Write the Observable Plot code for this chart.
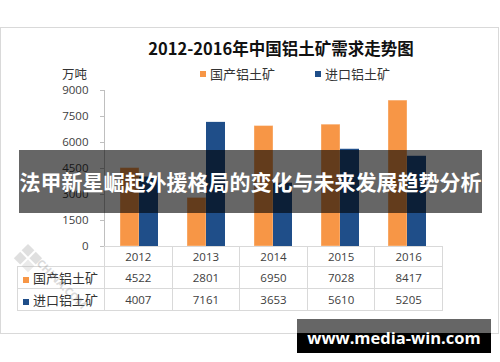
<!DOCTYPE html>
<html>
<head>
<meta charset="utf-8">
<script src="https://cdn.jsdelivr.net/npm/d3@7"></script>
<script src="https://cdn.jsdelivr.net/npm/@observablehq/plot@0.6"></script>
<style>
  html, body { margin: 0; padding: 0; background: #fff; }
  #wrap { position: relative; width: 500px; height: 362px; overflow: hidden; font-family: "Noto Sans CJK SC", "Open Sans", sans-serif; }
  #wrap > * { position: absolute; }
  #chart { left: 0; top: 0; }
  #chart svg text { fill: #404040; }
  #chart svg g[aria-label^="y-axis"] line, #chart svg g[aria-label^="y-axis"] path { stroke: #bfbfbf; }
  .border { left: 0; top: 27px; width: 499px; height: 307px; box-sizing: border-box; border: 1px solid #d9d9d9; }
  .title { left: 0; width: 562px; top: 36px; text-align: center; font-weight: bold; font-size: 16.5px; color: #111; line-height: 24px; }
  .unit { left: 62px; top: 67px; font-size: 12.5px; color: #333; line-height: 13px; }
  .legend { top: 65px; font-size: 13px; color: #333; line-height: 18px; display: flex; align-items: center; }
  .sw { width: 6px; height: 6px; margin-right: 4px; display: inline-block; }
  table.data { border-collapse: collapse; font-family: "Open Sans", sans-serif; font-size: 11.5px; color: #404040; }
  table.data td { border: 1px solid #d9d9d9; text-align: center; padding: 0; white-space: nowrap; }
  table.data td.lab { text-align: left; font-family: "Noto Sans CJK SC", sans-serif; font-size: 13px; color: #333; padding-left: 5px; }
  table.data td.empty { border: none; border-bottom: 1px solid #d9d9d9; }
  .banner { left: 19px; top: 150px; width: 463px; height: 63px; background: rgba(0,0,0,0.6); color: #fff; font-weight: bold; font-size: 21px; line-height: 63px; text-align: center; white-space: nowrap; }
  .url1 { left: 297px; top: 319px; width: 194px; height: 14px; background: #666; }
  .url2 { left: 297px; top: 333px; width: 194px; height: 20px; background: #000; }
  .urltext { left: 297px; top: 319px; width: 194px; height: 34px; line-height: 34px; text-align: center; color: #fff; font-family: "Open Sans", sans-serif; font-weight: bold; font-size: 16.5px; padding-top: 2px; box-sizing: border-box; }
  .wm { left: 6px; top: 226px; opacity: 0.3; }
</style>
</head>
<body>
<div id="wrap"></div>
<script>
// ---- data ----
const years = ["2012", "2013", "2014", "2015", "2016"];
const seriesNames = ["国产铝土矿", "进口铝土矿"];
const domestic = [4522, 2801, 6950, 7028, 8417];
const imported = [4007, 7161, 3653, 5610, 5205];
const yTicks = [0, 1500, 3000, 4500, 6000, 7500, 9000];
const colors = ["#F79646", "#1F4E89"];
const titleText = "2012-2016年中国铝土矿需求走势图";
const unitText = "万吨";
const bannerText = "法甲新星崛起外援格局的变化与未来发展趋势分析";
const urlText = "www.media-win.com";

const domRows = years.map((y, i) => ({year: y, value: domestic[i]}));
const impRows = years.map((y, i) => ({year: y, value: imported[i]}));

const wrap = document.getElementById("wrap");

const border = document.createElement("div");
border.className = "border";
wrap.appendChild(border);

const chart = Plot.plot({
  width: 500,
  height: 362,
  marginLeft: 104,
  marginRight: 58,
  marginTop: 90,
  marginBottom: 116,
  style: {fontFamily: "Open Sans, sans-serif", fontSize: "11.5px", background: "transparent", color: "#bfbfbf"},
  x: {domain: years, paddingInner: 0.44, paddingOuter: 0.22, axis: null},
  y: {domain: [0, 9000], ticks: yTicks, tickFormat: d => String(d), tickSize: 4, tickPadding: 12, line: true, label: null},
  marks: [
    Plot.barY(domRows, {x: "year", y: "value", fill: colors[0], insetRight: 19, stroke: "#fff", strokeOpacity: 0.35, strokeWidth: 1}),
    Plot.barY(impRows, {x: "year", y: "value", fill: colors[1], insetLeft: 19}),
    Plot.ruleY([0], {stroke: "#d0d0d0"})
  ]
});
const chartDiv = document.createElement("div");
chartDiv.id = "chart";
chartDiv.appendChild(chart);
wrap.appendChild(chartDiv);

// title
const title = document.createElement("div");
title.className = "title";
title.textContent = titleText;
wrap.appendChild(title);

// unit
const unit = document.createElement("div");
unit.className = "unit";
unit.textContent = unitText;
wrap.appendChild(unit);

// legend
const legendX = [200, 315];
seriesNames.forEach((name, i) => {
  const l = document.createElement("div");
  l.className = "legend";
  l.style.left = legendX[i] + "px";
  l.innerHTML = `<span class="sw" style="background:${colors[i]}"></span><span>${name}</span>`;
  wrap.appendChild(l);
});

// data table aligned with x band scale
const xs = chart.scale("x");
const step = (xs.range[1] - xs.range[0]) / years.length;
const table = document.createElement("table");
table.className = "data";
table.style.left = "17px";
table.style.top = "246px";
const colW = [87].concat(years.map(() => step));
const rowH = [20, 22, 22];
let html = "<colgroup>" + colW.map(w => `<col style="width:${w}px">`).join("") + "</colgroup>";
html += `<tr style="height:${rowH[0]}px"><td class="empty"></td>` + years.map(y => `<td>${y}</td>`).join("") + "</tr>";
[domestic, imported].forEach((vals, i) => {
  html += `<tr style="height:${rowH[i + 1]}px"><td class="lab"><span class="sw" style="background:${colors[i]}"></span>${seriesNames[i]}</td>` +
    vals.map(v => `<td>${v}</td>`).join("") + "</tr>";
});
table.innerHTML = html;
table.style.width = (87 + step * years.length) + "px";
table.style.tableLayout = "fixed";
wrap.appendChild(table);

// watermark (faint logo)
const wm = document.createElementNS("http://www.w3.org/2000/svg", "svg");
wm.setAttribute("class", "wm");
wm.setAttribute("width", "120");
wm.setAttribute("height", "120");
wm.style.position = "absolute";
wm.innerHTML = `<g transform="translate(22,18) rotate(45)">
  <rect x="0" y="0" width="9" height="9" fill="#999"/><rect x="11" y="0" width="9" height="9" fill="#999"/>
  <rect x="0" y="11" width="9" height="9" fill="#999"/><rect x="11" y="11" width="9" height="9" fill="#bbb"/></g>
  <text x="30" y="38" transform="rotate(45 30 38)" font-size="11" font-family="Open Sans" fill="#888" font-weight="bold">CHINA.COM</text>`;
wrap.appendChild(wm);

// overlay banner
const banner = document.createElement("div");
banner.className = "banner";
banner.textContent = bannerText;
wrap.appendChild(banner);

// url box
["url1", "url2"].forEach(c => { const d = document.createElement("div"); d.className = c; wrap.appendChild(d); });
const url = document.createElement("div");
url.className = "urltext";
url.textContent = urlText;
wrap.appendChild(url);
</script>
</body>
</html>
